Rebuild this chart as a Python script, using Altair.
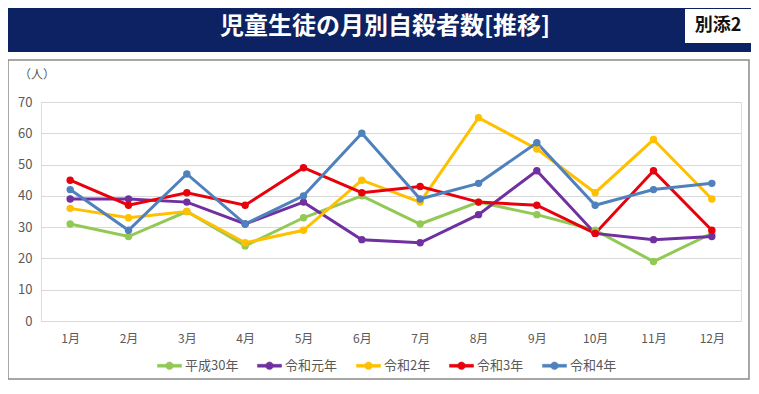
import altair as alt
import pandas as pd

months = ["1月", "2月", "3月", "4月", "5月", "6月", "7月", "8月", "9月", "10月", "11月", "12月"]
series_names = ["平成30年", "令和元年", "令和2年", "令和3年", "令和4年"]
heisei30 = [31, 27, 35, 24, 33, 40, 31, 38, 34, 29, 19, 28]
reiwa1 = [39, 39, 38, 31, 38, 26, 25, 34, 48, 28, 26, 27]
reiwa2 = [36, 33, 35, 25, 29, 45, 38, 65, 55, 41, 58, 39]
reiwa3 = [45, 37, 41, 37, 49, 41, 43, 38, 37, 28, 48, 29]
reiwa4 = [42, 29, 47, 31, 40, 60, 39, 44, 57, 37, 42, 44]
colors = ["#92c955", "#7030a0", "#ffc000", "#e8000d", "#4f81bd"]
y_ticks = [0, 10, 20, 30, 40, 50, 60, 70]
title_text = "児童生徒の月別自殺者数[推移]"
badge_text = "別添2"
unit_text = "（人）"

rows = []
for name, vals in zip(series_names, [heisei30, reiwa1, reiwa2, reiwa3, reiwa4]):
    for m, v in zip(months, vals):
        rows.append({"month": m, "series": name, "value": v})
df = pd.DataFrame(rows)

FONT = "Noto Sans CJK JP"
one = alt.Data(values=[{"a": 1}])

x_enc = alt.X("month:N", sort=months, title=None,
              scale=alt.Scale(type="point", padding=0.5),
              axis=alt.Axis(labelAngle=0, domain=False, ticks=False, grid=False,
                            labelFontSize=12, labelColor="#595959", labelPadding=12,
                            labelFont=FONT))
y_enc = alt.Y("value:Q", title=None,
              scale=alt.Scale(domain=[0, 70], nice=False),
              axis=alt.Axis(values=y_ticks, domain=False, ticks=False, gridColor="#d9d9d9",
                            labelFontSize=13, labelColor="#595959", labelPadding=9,
                            labelFont=FONT))

legend_symbol = "M-1,-0.12L1,-0.12L1,0.12L-1,0.12Z M0.32,0A0.32,0.32,0,1,1,-0.32,0A0.32,0.32,0,1,1,0.32,0Z"

color_enc = alt.Color("series:N", sort=series_names,
                      scale=alt.Scale(domain=series_names, range=colors),
                      legend=alt.Legend(title=None, orient="none", direction="horizontal",
                                        legendX=116, legendY=251,
                                        symbolType=legend_symbol, symbolSize=576,
                                        symbolStrokeWidth=0.5,
                                        labelFontSize=13, labelColor="#595959", labelFont=FONT,
                                        labelOffset=3, columnPadding=17))

lines = alt.Chart(df).mark_line(strokeWidth=3).encode(x=x_enc, y=y_enc, color=color_enc)
points = alt.Chart(df).mark_point(filled=True, size=55, opacity=1).encode(x=x_enc, y=y_enc, color=color_enc)

header = alt.Chart(one).mark_rect(color="#0d2262").encode(
    x=alt.value(-45), x2=alt.value(720), y=alt.value(-102), y2=alt.value(-50))
badge = alt.Chart(one).mark_rect(color="#ffffff").encode(
    x=alt.value(644), x2=alt.value(720), y=alt.value(-93), y2=alt.value(-59))
frame = alt.Chart(one).mark_rect(fill="#ffffff", fillOpacity=0, stroke="#8a8a8a", strokeWidth=1.5).encode(
    x=alt.value(-33), x2=alt.value(708), y=alt.value(-42), y2=alt.value(277))
title = alt.Chart(one).mark_text(text=title_text, color="#ffffff", fontSize=24, fontWeight="bold",
                                 font=FONT, align="center", baseline="middle").encode(
    x=alt.value(344), y=alt.value(-75))
badge_t = alt.Chart(one).mark_text(text=badge_text, color="#111111", fontSize=18, fontWeight="bold",
                                   font=FONT, align="center", baseline="middle").encode(
    x=alt.value(677), y=alt.value(-76))
unit = alt.Chart(one).mark_text(text=unit_text, color="#595959", fontSize=12,
                                font=FONT, align="left", baseline="middle").encode(
    x=alt.value(-22), y=alt.value(-27))

chart = alt.layer(header, badge, frame, title, badge_t, unit, lines, points).properties(
    width=700, height=219,
    autosize=alt.AutoSizeParams(type="none"),
    padding={"left": 33, "top": 94, "right": 10, "bottom": 60},
).configure_view(stroke=None).configure(background="#ffffff")

chart.save("out.html", embed_options={"renderer": "svg", "actions": False})
